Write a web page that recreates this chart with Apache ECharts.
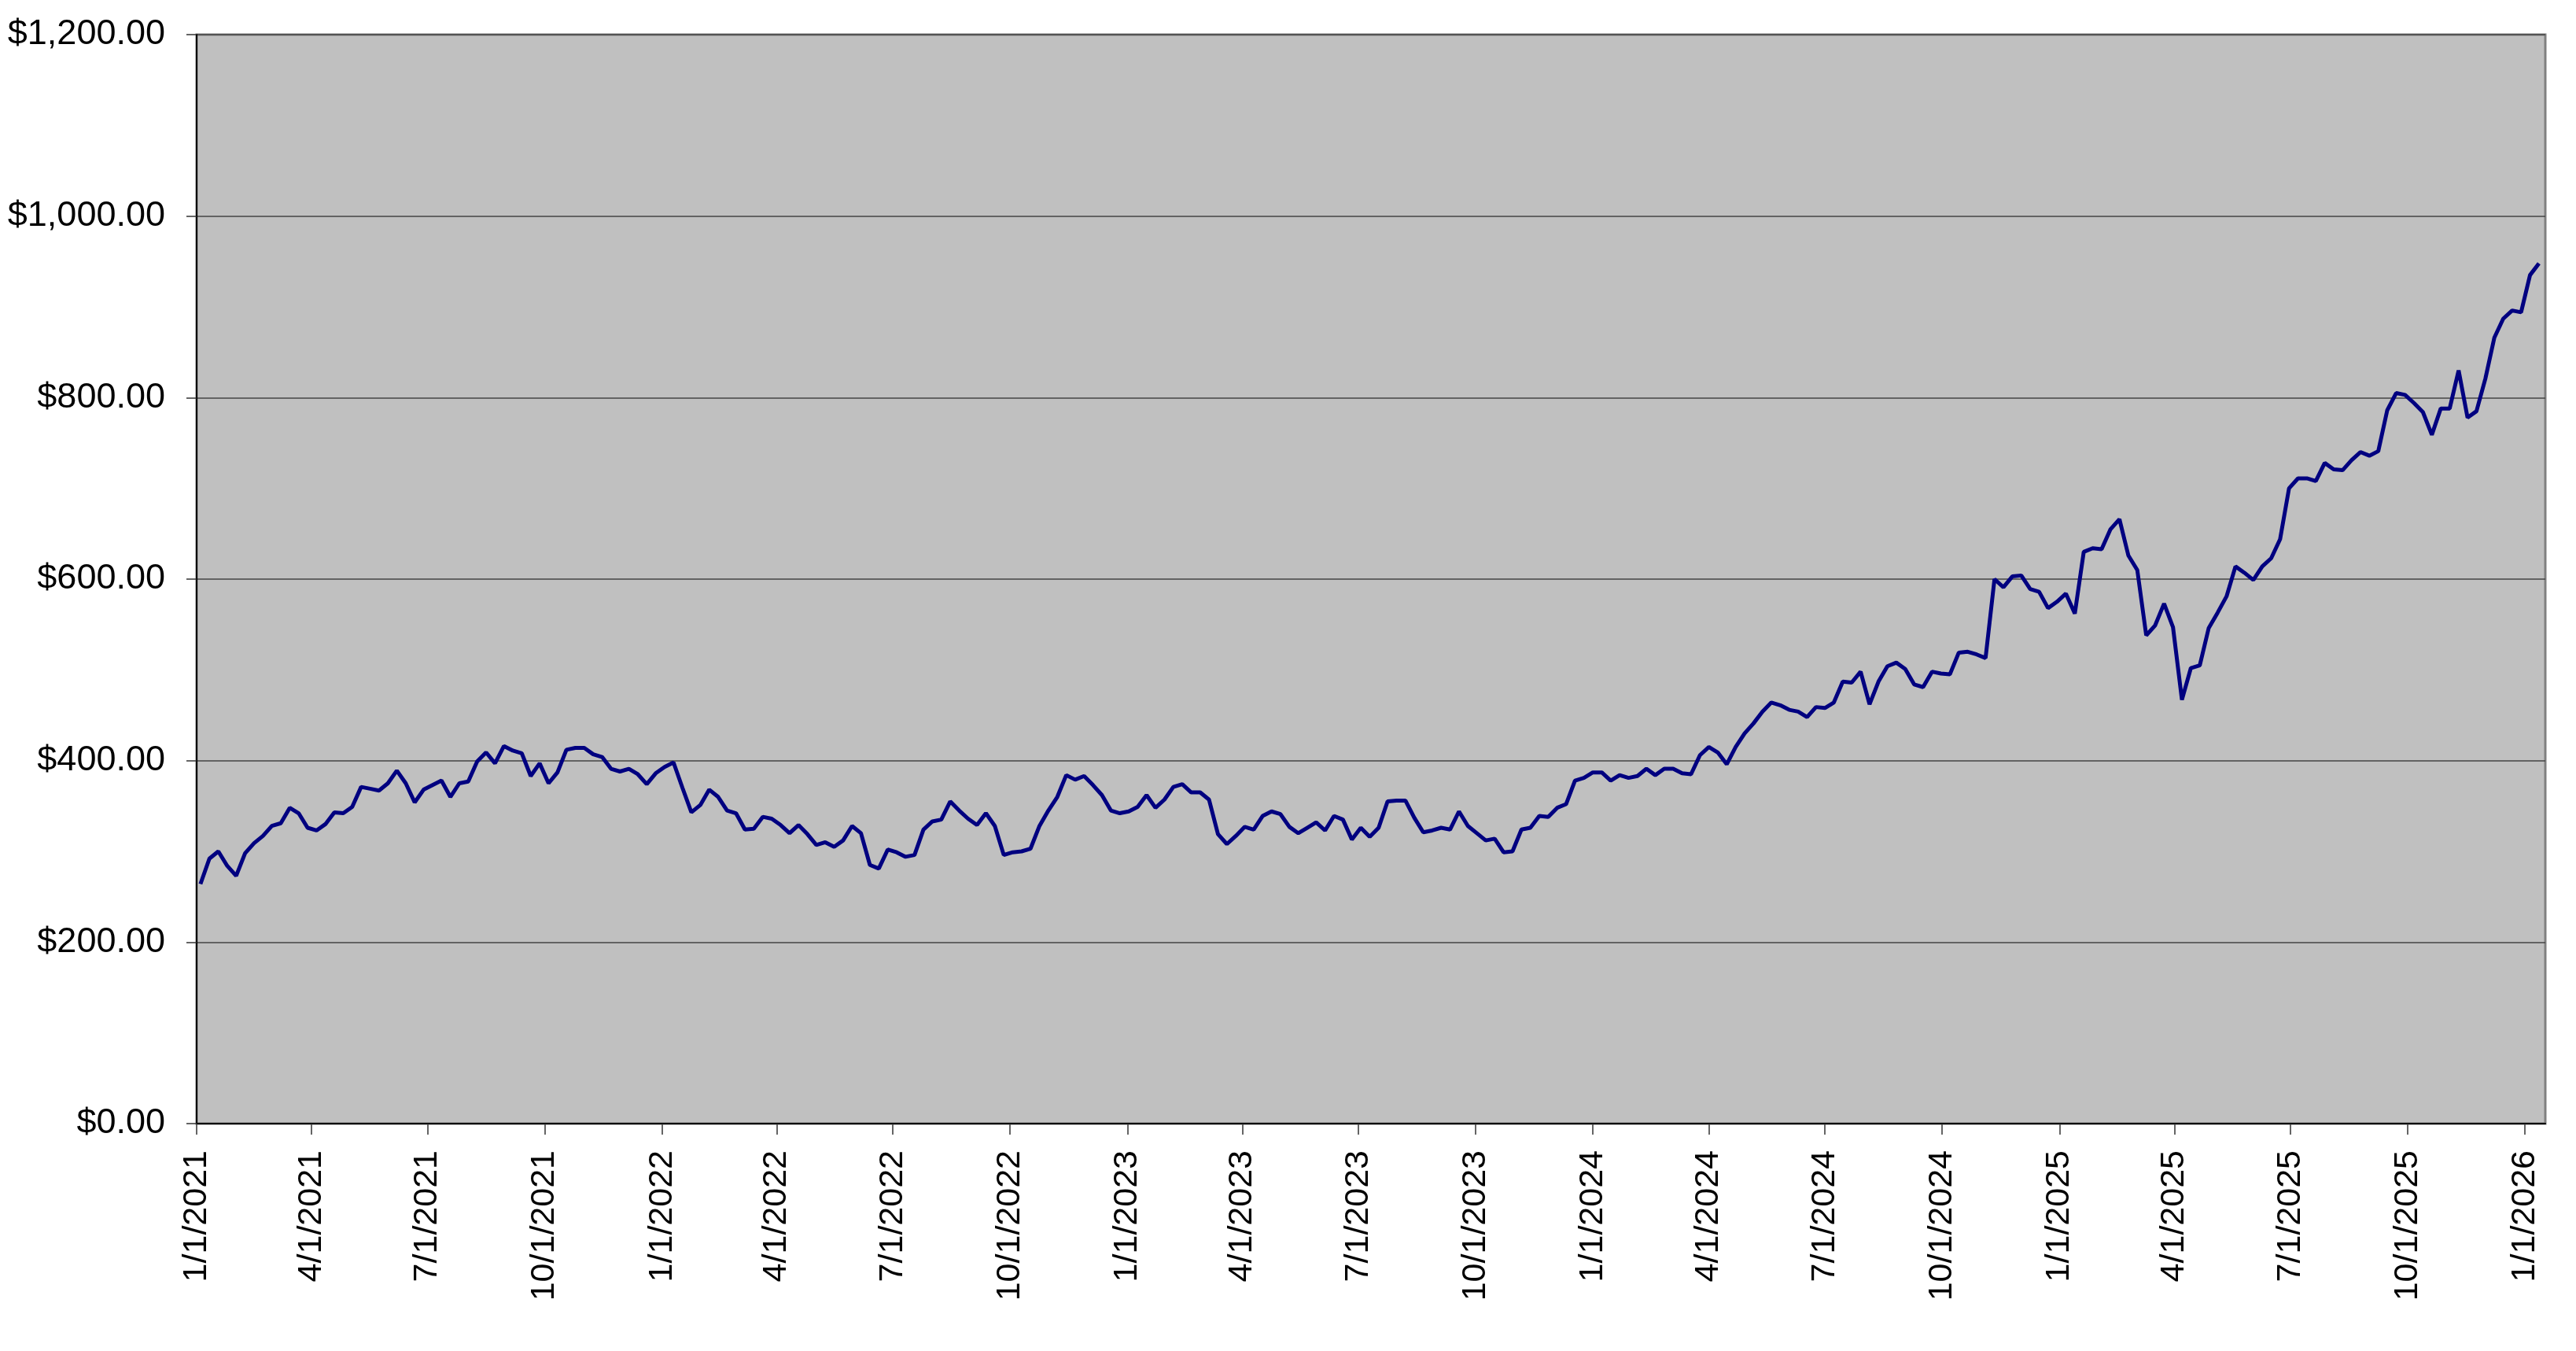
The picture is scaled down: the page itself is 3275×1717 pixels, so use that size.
<!DOCTYPE html>
<html lang="en">
<head>
    <meta charset="UTF-8"/>
    <title>Price history</title>
    <script src="https://cdn.jsdelivr.net/npm/echarts@6/dist/echarts.min.js"></script>
    <style>
        html, body { margin: 0; padding: 0; background: #ffffff; }
        #main { width: 3275px; height: 1717px; }
    </style>
</head>
<body>
<div id="main"></div>
<script type="text/javascript">
    // weekly closes, first week starting 2021-01-04, one value per week
    var firstWeek = [2021, 1, 4];
    var values2021 = [264, 292, 300, 284, 273, 298, 309, 317, 328, 331, 348, 342, 326, 323, 330, 343, 342, 349,
        371, 369, 367, 375, 389, 375, 354, 368, 373, 378, 360, 375, 377, 399, 409, 397, 416, 411, 408, 383,
        397, 375, 387, 412, 414, 414, 407, 404, 391, 388, 391, 385, 374, 386, 393];
    var values2022 = [398, 370, 343, 351, 368, 360, 345, 342, 324, 325, 338, 336, 329, 320, 329, 319, 307, 310,
        305, 312, 328, 320, 285, 281, 302, 299, 294, 296, 324, 333, 335, 355, 345, 336, 329, 342, 328, 296,
        299, 300, 303, 328, 345, 360, 384, 379, 383, 373, 362, 345, 342, 344, 349];
    var values2023 = [362, 348, 357, 371, 374, 365, 365, 357, 319, 308, 317, 327, 324, 339, 344, 341, 327, 320,
        326, 332, 323, 339, 335, 313, 326, 316, 326, 355, 356, 356, 337, 321, 323, 326, 324, 344, 328, 320,
        312, 314, 299, 300, 324, 326, 339, 338, 348, 352, 378, 381, 387, 387, 378];
    var values2024 = [384, 381, 383, 391, 384, 391, 391, 386, 385, 406, 415, 409, 396, 415, 430, 441, 454, 464,
        461, 456, 454, 448, 459, 458, 464, 487, 486, 498, 462, 487, 504, 508, 501, 484, 481, 498, 496, 495,
        519, 520, 517, 513, 600, 591, 603, 604, 589, 586, 568, 575, 584, 562];
    var values2025 = [630, 634, 633, 655, 666, 626, 610, 538, 549, 573, 547, 467, 502, 505, 546, 563, 581, 614,
        607, 599, 614, 623, 644, 700, 711, 711, 708, 728, 721, 720, 731, 740, 736, 741, 786, 805, 803, 794,
        784, 759, 788, 788, 830, 778, 785, 821, 866, 887, 896, 894, 935, 948];

    var quarterTicks = ['2021-01-01', '2021-04-01', '2021-07-01', '2021-10-01',
        '2022-01-01', '2022-04-01', '2022-07-01', '2022-10-01',
        '2023-01-01', '2023-04-01', '2023-07-01', '2023-10-01',
        '2024-01-01', '2024-04-01', '2024-07-01', '2024-10-01',
        '2025-01-01', '2025-04-01', '2025-07-01', '2025-10-01',
        '2026-01-01'];
    var axisStart = '2021-01-01';
    var axisEnd = '2026-01-17';

    var fontFamily = '"Liberation Sans", Arial, sans-serif';

    function toTime(s) {
        var p = s.split('-');
        return new Date(+p[0], +p[1] - 1, +p[2]).getTime();
    }

    var values = [].concat(values2021, values2022, values2023, values2024, values2025);
    var data = [];
    for (var i = 0; i < values.length; i++) {
        var d = new Date(firstWeek[0], firstWeek[1] - 1, firstWeek[2] + 7 * i);
        data.push([d.getTime(), values[i]]);
    }
    var tickTimes = quarterTicks.map(toTime);

    var myChart = echarts.init(document.getElementById('main'));

    // x is a plain value axis over timestamps so the quarter ticks can be placed exactly
    var option = {
        animation: false,
        grid: {
            left: 250,
            right: 39,
            top: 44,
            bottom: 289,
            show: true,
            backgroundColor: '#c0c0c0',
            borderColor: '#808080',
            borderWidth: 3
        },
        xAxis: {
            type: 'value',
            min: toTime(axisStart),
            max: toTime(axisEnd),
            axisLine: { show: true, onZero: false, lineStyle: { color: '#000000', width: 2 } },
            axisTick: { show: true, length: 14, customValues: tickTimes, lineStyle: { color: '#333333', width: 1.5 } },
            minorTick: { show: false },
            splitLine: { show: false },
            axisLabel: {
                customValues: tickTimes,
                rotate: 90,
                margin: 34,
                fontSize: 43,
                fontFamily: fontFamily,
                color: '#000000',
                formatter: function (v) {
                    var d = new Date(v);
                    return (d.getMonth() + 1) + '/' + d.getDate() + '/' + d.getFullYear();
                }
            }
        },
        yAxis: {
            type: 'value',
            min: 0,
            max: 1200,
            interval: 200,
            axisLine: { show: true, lineStyle: { color: '#000000', width: 2 } },
            axisTick: { show: true, length: 13, lineStyle: { color: '#333333', width: 1.5 } },
            splitLine: { show: true, lineStyle: { color: '#444444', width: 1.5 } },
            axisLabel: {
                margin: 40,
                fontSize: 45,
                fontFamily: fontFamily,
                color: '#000000',
                formatter: function (v) {
                    return '$' + v.toLocaleString('en-US', { minimumFractionDigits: 2, maximumFractionDigits: 2 });
                }
            }
        },
        series: [
            {
                name: 'Price',
                type: 'line',
                data: data,
                showSymbol: false,
                symbol: 'none',
                clip: true,
                lineStyle: { color: '#000080', width: 5 }
            }
        ]
    };

    myChart.setOption(option);
</script>
</body>
</html>
